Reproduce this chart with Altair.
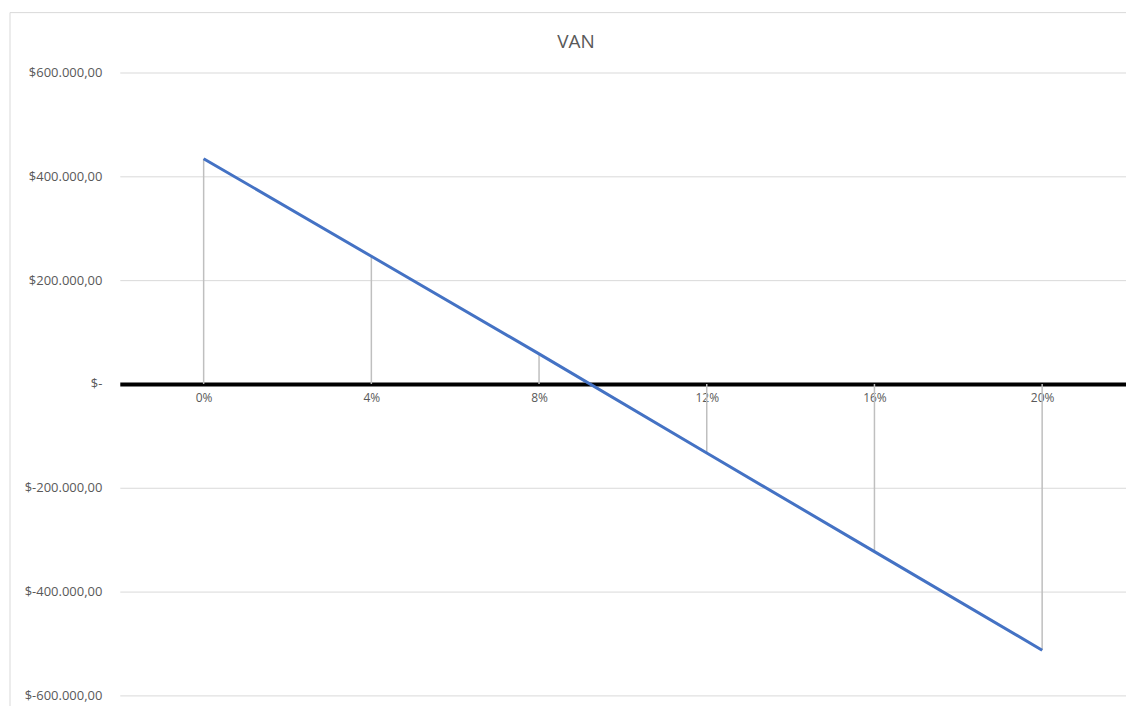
import altair as alt
import pandas as pd

rates = ["0%", "4%", "8%", "12%", "16%", "20%"]
van = [434000, 246000, 58000, -133000, -323000, -513000]
y_ticks = [-600000, -400000, -200000, 0, 200000, 400000, 600000]

df = pd.DataFrame({"tasa": rates, "van": van, "cero": [0] * len(rates)})

FONT = "Open Sans"
GREY_TXT = "#595959"
W, H = 1008, 624

x_enc = alt.X(
    "tasa:N",
    sort=rates,
    scale=alt.Scale(type="point", padding=0.5),
    axis=alt.Axis(
        title=None, labelAngle=0, ticks=False, grid=False,
        domainColor="black", domainWidth=4, offset=-H / 2,
        labelPadding=9, labelColor=GREY_TXT, labelFontSize=12, labelFont=FONT,
    ),
)
y_enc = alt.Y(
    "van:Q",
    scale=alt.Scale(domain=[-600000, 600000], nice=False),
    axis=alt.Axis(
        title=None, values=y_ticks, grid=True, gridColor="#d9d9d9", gridWidth=1,
        domain=False, ticks=False, labelPadding=18, labelColor=GREY_TXT,
        labelFontSize=13, labelFont=FONT,
        labelExpr="datum.value == 0 ? '$-' : (datum.value < 0 ? '$-' : '$') + "
                  "replace(replace(replace(format(abs(datum.value), ',.2f'), ',', '_'), '.', ','), '_', '.')",
    ),
)

frame = alt.Chart(pd.DataFrame({"a": [0]})).mark_rect(
    fill="transparent", stroke="#d9d9d9", strokeWidth=1
).encode(x=alt.value(-110), x2=alt.value(1030), y=alt.value(-60), y2=alt.value(700))

drops = alt.Chart(df).mark_rule(color="#bfbfbf", strokeWidth=1.5).encode(
    x=x_enc, y=y_enc, y2="cero:Q"
)
line = alt.Chart(df).mark_line(color="#4472c4", strokeWidth=3).encode(x=x_enc, y=y_enc)

chart = alt.layer(frame, drops, line).properties(
    width=W, height=H,
    title=alt.TitleParams("VAN", fontSize=19, font=FONT, fontWeight="normal",
                          color=GREY_TXT, anchor="middle", frame="group", dx=-47,
                          offset=22, dy=62),
    autosize=alt.AutoSizeParams(type="none"),
    padding={"left": 112, "top": 64, "right": 0, "bottom": 10},
).configure_view(stroke=None)

chart.save("out.html", embed_options={"renderer": "svg", "actions": False})
